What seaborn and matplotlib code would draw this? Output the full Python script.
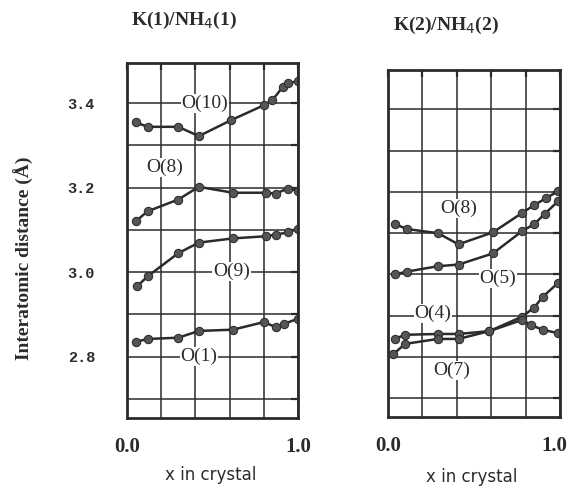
import matplotlib
matplotlib.use("Agg")
import matplotlib.pyplot as plt
import matplotlib.transforms as mtransforms
import seaborn as sns

sns.set_style("white")
plt.rcParams['font.family'] = ['Liberation Serif', 'DejaVu Serif']

# ---- data ----
# Left panel: K(1)/NH4(1)
x_o10 = [0.05, 0.12, 0.30, 0.42, 0.61, 0.80, 0.85, 0.91, 0.94, 1.00]
y_o10 = [3.355, 3.344, 3.344, 3.322, 3.360, 3.395, 3.407, 3.438, 3.447, 3.452]
x_o8a = [0.05, 0.12, 0.30, 0.42, 0.62, 0.81, 0.87, 0.94, 1.00]
y_o8a = [3.120, 3.144, 3.172, 3.202, 3.188, 3.188, 3.186, 3.198, 3.193]
x_o9 = [0.06, 0.12, 0.30, 0.42, 0.62, 0.81, 0.87, 0.94, 1.00]
y_o9 = [2.967, 2.990, 3.045, 3.070, 3.080, 3.085, 3.089, 3.094, 3.103]
x_o1 = [0.05, 0.12, 0.30, 0.42, 0.62, 0.80, 0.87, 0.92, 1.00]
y_o1 = [2.835, 2.842, 2.845, 2.861, 2.864, 2.882, 2.870, 2.878, 2.890]

# Right panel: K(2)/NH4(2)
x_o8b = [0.04, 0.11, 0.29, 0.41, 0.61, 0.78, 0.85, 0.92, 0.99]
y_o8b = [3.122, 3.110, 3.100, 3.073, 3.102, 3.149, 3.168, 3.185, 3.202]
x_o5 = [0.04, 0.11, 0.29, 0.41, 0.61, 0.78, 0.85, 0.91, 0.99]
y_o5 = [3.000, 3.007, 3.020, 3.024, 3.051, 3.105, 3.122, 3.146, 3.178]
x_o4 = [0.04, 0.10, 0.29, 0.41, 0.59, 0.78, 0.85, 0.90, 0.99]
y_o4 = [2.844, 2.854, 2.856, 2.856, 2.863, 2.898, 2.920, 2.946, 2.980]
x_o7 = [0.03, 0.10, 0.29, 0.41, 0.59, 0.78, 0.83, 0.90, 0.99]
y_o7 = [2.807, 2.832, 2.844, 2.844, 2.863, 2.890, 2.878, 2.866, 2.858]

titles = ["K(1)/NH$_4$(1)", "K(2)/NH$_4$(2)"]
x_ticks = [0.0, 0.2, 0.4, 0.6, 0.8, 1.0]
x_ticklabels = ["0.0", "", "", "", "", "1.0"]
y_ticks = [2.7, 2.8, 2.9, 3.0, 3.1, 3.2, 3.3, 3.4]
y_ticklabels = ["", "2.8", "", "3.0", "", "3.2", "", "3.4"]

left_series = [(x_o10, y_o10, "O(10)", 0.455, 3.400),
               (x_o8a, y_o8a, "O(8)", 0.22, 3.247),
               (x_o9, y_o9, "O(9)", 0.61, 3.002),
               (x_o1, y_o1, "O(1)", 0.42, 2.800)]
right_series = [(x_o8b, y_o8b, "O(8)", 0.41, 3.159),
                (x_o5, y_o5, "O(5)", 0.64, 2.990),
                (x_o4, y_o4, "O(4)", 0.26, 2.905),
                (x_o7, y_o7, "O(7)", 0.37, 2.768)]

fig = plt.figure(figsize=(5.68, 4.86), dpi=100)
ax1 = fig.add_axes([127/568, 1-418/486, 171/568, 355/486])
ax2 = fig.add_axes([388/568, 1-417/486, 172/568, 347/486])

ink = "#2b2b2b"
for ax, series in [(ax1, left_series), (ax2, right_series)]:
    ax.set_xlim(0, 1.0)
    ax.set_ylim(2.655, 3.495)
    ax.set_xticks(x_ticks)
    ax.set_xticklabels(x_ticklabels)
    ax.set_yticks(y_ticks)
    ax.set_yticklabels(y_ticklabels if ax is ax1 else [""] * len(y_ticks))
    ax.grid(True, color=ink, linewidth=1.1)
    ax.set_axisbelow(True)
    for s in ax.spines.values():
        s.set_linewidth(2.0)
        s.set_color(ink)
    ax.tick_params(direction="in", length=5, width=1.6, color=ink,
                   top=True, right=True)
    ax.tick_params(axis="x", pad=14, labelsize=15, labelcolor=ink)
    ax.tick_params(axis="y", pad=23, labelsize=11, labelcolor=ink)
    for lbl in ax.get_xticklabels():
        lbl.set_fontweight("bold")
    for lbl in ax.get_yticklabels():
        lbl.set_fontweight("bold")
        lbl.set_family(["Liberation Mono", "DejaVu Sans Mono"])
    for xs, ys, name, tx, ty in series:
        sns.lineplot(x=xs, y=ys, ax=ax, color=ink, linewidth=1.8,
                     marker="o", markersize=6, markeredgecolor=ink,
                     markerfacecolor="#555555", estimator=None, sort=False)
        ax.text(tx, ty, name, ha="center", va="center", fontsize=14,
                color=ink,
                bbox=dict(facecolor="white", edgecolor="none", pad=0.5),
                zorder=5)
    ax.set_xlabel("x in crystal", fontsize=12, family=["DejaVu Sans"],
                  color=ink)

# nudge the right-most "1.0" slightly inward so it stays inside the figure
last = ax2.get_xticklabels()[-1]
last.set_transform(last.get_transform() +
                   mtransforms.ScaledTranslation(-6/100, 0, fig.dpi_scale_trans))

ax1.xaxis.set_label_coords((211-127)/171, -(466-418)/355)
ax2.xaxis.set_label_coords((472-388)/172, -(468-417)/347)
ax1.set_ylabel("Interatomic distance (Å)", fontsize=14, fontweight="bold",
               color=ink)
ax1.yaxis.set_label_coords((34-127)/171, (418-258)/355)

fig.text(184/568, 1-20/486, titles[0], ha="center", va="center",
         fontsize=14, fontweight="bold", color=ink)
fig.text(446/568, 1-25/486, titles[1], ha="center", va="center",
         fontsize=14, fontweight="bold", color=ink)

fig.savefig("out.png", dpi=100, facecolor="white")
